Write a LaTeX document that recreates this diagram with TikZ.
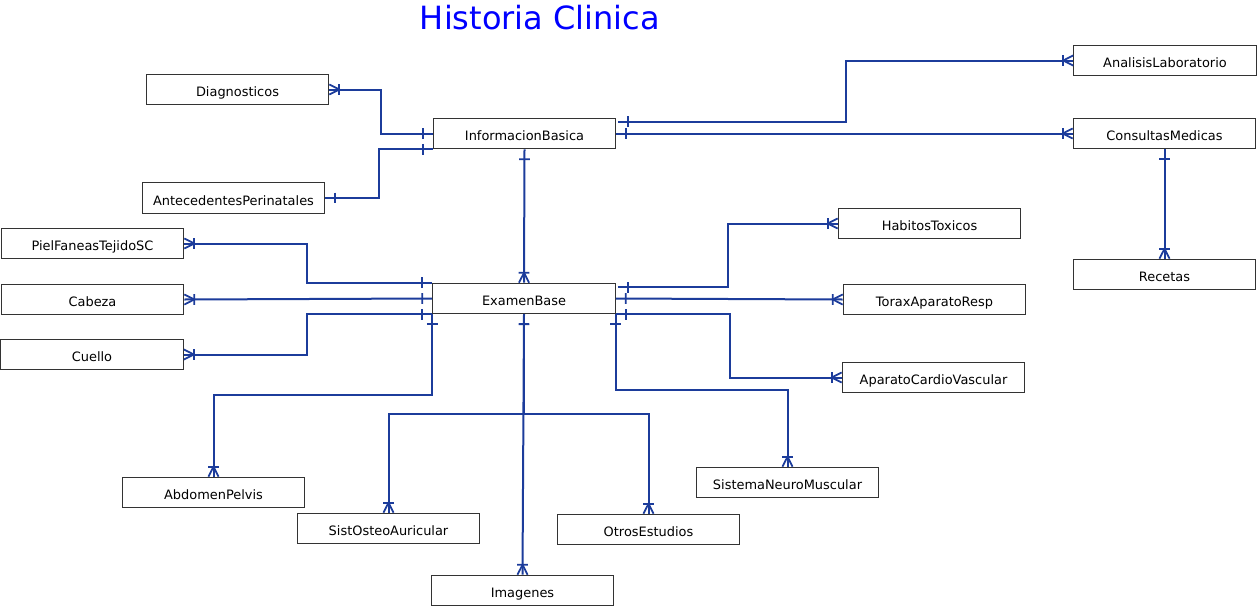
\documentclass[tikz,border=0pt]{standalone}
\usepackage{fontspec}
\setmainfont{DejaVu Sans}
\usetikzlibrary{decorations.markings}

\definecolor{relblue}{RGB}{28,60,155}
\definecolor{titleblue}{RGB}{0,0,255}

\begin{document}
\begin{tikzpicture}[x=0.75pt, y=-0.75pt, line cap=butt, line join=miter]

% ------------------------------------------------
% Styles
% ------------------------------------------------
\tikzset{
    entity/.style={draw=black!80, line width=0.7pt, fill=white,
        minimum width=137pt, minimum height=23pt, inner sep=0pt,
        text height=11pt, text depth=0pt,
        font=\fontsize{9.7}{11}\selectfont},
    rel/.style={draw=relblue, line width=1.5pt},
    onestart/.style={postaction={decorate, decoration={markings,
        mark=at position 7.5pt with {\draw[relblue, line width=1.3pt] (0,-4pt) -- (0,4pt);}}}},
    oneend/.style={postaction={decorate, decoration={markings,
        mark=at position -7.5pt with {\draw[relblue, line width=1.3pt] (0,-4pt) -- (0,4pt);}}}},
    manyend/.style={postaction={decorate, decoration={markings,
        mark=at position -7.5pt with {
            \draw[relblue, line width=1.3pt] (0,-4pt) -- (0,4pt);
            \draw[relblue, line width=1.3pt] (7.5pt,3.8pt) -- (0,0) -- (7.5pt,-3.8pt);}}}},
    onemany/.style={rel, onestart, manyend},
    oneone/.style={rel, onestart, oneend},
    ttl/.style={font=\fontsize{24}{28}\selectfont, text=titleblue},
}

\useasboundingbox (0,0) rectangle (1257,607);

\node[ttl] (titulo) at (540,18) {Historia Clinica};

% ------------------------------------------------
% Entities
% ------------------------------------------------
\node[entity] (Diagnosticos)            at (237.5,89.5)  {Diagnosticos};
\node[entity] (AntecedentesPerinatales) at (233.5,198)   {AntecedentesPerinatales};
\node[entity] (InformacionBasica)       at (524.5,133.5) {InformacionBasica};
\node[entity] (AnalisisLaboratorio)     at (1165,60.5)   {AnalisisLaboratorio};
\node[entity] (ConsultasMedicas)        at (1164.5,133.5) {ConsultasMedicas};
\node[entity] (Recetas)                 at (1164.5,274.5) {Recetas};
\node[entity] (HabitosToxicos)          at (929.5,223.5) {HabitosToxicos};
\node[entity] (PielFaneasTejidoSC)      at (92.5,243.5)  {PielFaneasTejidoSC};
\node[entity] (Cabeza)                  at (92.5,299.5)  {Cabeza};
\node[entity] (Cuello)                  at (92,354.5)    {Cuello};
\node[entity] (ExamenBase)              at (524,298.5)   {ExamenBase};
\node[entity] (ToraxAparatoResp)        at (934.5,299.5) {ToraxAparatoResp};
\node[entity] (AparatoCardioVascular)   at (933.5,377.5) {AparatoCardioVascular};
\node[entity] (SistemaNeuroMuscular)    at (787.5,482.5) {SistemaNeuroMuscular};
\node[entity] (AbdomenPelvis)           at (213.5,492.5) {AbdomenPelvis};
\node[entity] (SistOsteoAuricular)      at (388.5,528.5) {SistOsteoAuricular};
\node[entity] (OtrosEstudios)           at (648.5,529.5) {OtrosEstudios};
\node[entity] (Imagenes)                at (522.5,590.5) {Imagenes};

% ------------------------------------------------
% InformacionBasica relations
% ------------------------------------------------
\draw[onemany] (InformacionBasica.west) -- ++(-52,0) |- (Diagnosticos.east);
\draw[oneone] (InformacionBasica.south west) -- ++(-54,0) |- (AntecedentesPerinatales.east);
\draw[onemany] ([xshift=1.5pt,yshift=-3pt]InformacionBasica.north east) -- ++(228,0)
    |- (AnalisisLaboratorio.west);
\draw[onemany] (InformacionBasica.east) -- (ConsultasMedicas.west);
\draw[onemany] (InformacionBasica.south) -- (ExamenBase.north);

% ConsultasMedicas
\draw[onemany] (ConsultasMedicas.south) -- (Recetas.north);

% ------------------------------------------------
% ExamenBase relations
% ------------------------------------------------
\draw[onemany] (ExamenBase.north west) -- ++(-125,0) |- (PielFaneasTejidoSC.east);
\draw[onemany] (ExamenBase.west) -- (Cabeza.east);
\draw[onemany] (ExamenBase.south west) -- ++(-125,0) |- (Cuello.east);
\draw[onemany] (ExamenBase.south west) -- ++(0,81) -| (AbdomenPelvis.north);
\draw[onemany] (ExamenBase.south) -- ++(0,100) -| (SistOsteoAuricular.north);
\draw[onemany] (ExamenBase.south) -- ++(0,100) -| (OtrosEstudios.north);
\draw[onemany] (ExamenBase.south) -- (Imagenes.north);
\draw[onemany] (ExamenBase.south east) -- ++(0,76) -| (SistemaNeuroMuscular.north);

\draw[onemany] ([xshift=1.5pt,yshift=-3.5pt]ExamenBase.north east) -- ++(110,0)
    |- (HabitosToxicos.west);
\draw[onemany] (ExamenBase.east) -- (ToraxAparatoResp.west);
\draw[onemany] (ExamenBase.south east) -- ++(114,0) |- (AparatoCardioVascular.west);

\end{tikzpicture}
\end{document}
